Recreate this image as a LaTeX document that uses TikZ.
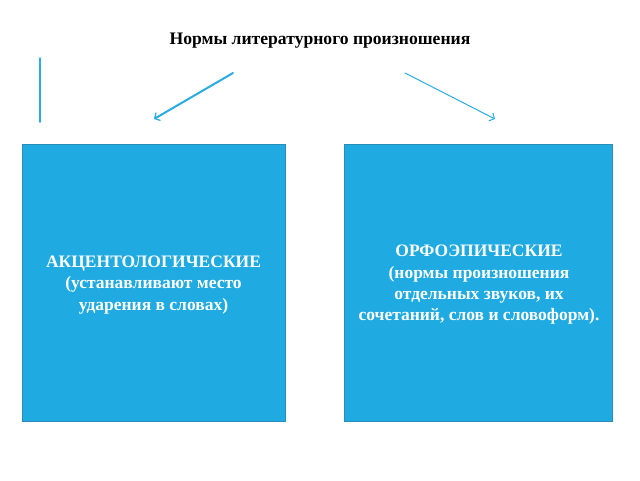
\documentclass[tikz,border=0pt]{standalone}
\usepackage{fontspec}
\setmainfont{Liberation Serif}
\usetikzlibrary{arrows.meta}
\definecolor{boxblue}{HTML}{1FAAE1}
\definecolor{boxedge}{HTML}{2A8CB8}
\definecolor{lineblue}{HTML}{2AACE2}
\tikzset{
  normbox/.style={draw=boxedge, line width=0.8pt, fill=boxblue, text=white, font=\bfseries\fontsize{17.5}{21.3}\selectfont, align=center, inner sep=0pt},
  normline/.style={color=lineblue, line cap=round}
}

\begin{document}
\begin{tikzpicture}[x=1pt, y=-1pt]
			%%%%% START %%%%%
			\useasboundingbox (0, 0) rectangle (640, 480);
			
			\node[font=\bfseries\fontsize{17.6}{20}\selectfont] (title) at (320, 41) {Нормы литературного произношения};
			
			\draw[normbox] (22, 144) rectangle (285, 421);
			\node[normbox, draw=none, fill=none] (akcent) at (153.5, 285) {АКЦЕНТОЛОГИЧЕСКИЕ\\(устанавливают место\\ударения в словах)};
			
			\draw[normbox] (344, 144) rectangle (612, 421);
			\node[normbox, draw=none, fill=none] (orfo) at (479, 285) {ОРФОЭПИЧЕСКИЕ\\(нормы произношения\\отдельных звуков, их\\сочетаний, слов и словоформ).};
			
			\coordinate (vtop) at (40, 58);
			\coordinate (vbot) at (40, 122);
			\draw[normline, line width=1.5pt] (vtop) -- (vbot);
			
			\coordinate (lfrom) at (233, 73);
			\coordinate (lto) at (154, 119);
			\draw[normline, line width=2pt, -{Straight Barb[length=4pt, width=9pt, line width=1.3pt]}] (lfrom) -- (lto);
			
			\coordinate (rfrom) at (405, 73);
			\coordinate (rto) at (495, 119);
			\draw[normline, line width=1pt, -{Straight Barb[length=4pt, width=9pt]}] (rfrom) -- (rto);
			
			%%%%% END %%%%%
\end{tikzpicture}
\end{document}
